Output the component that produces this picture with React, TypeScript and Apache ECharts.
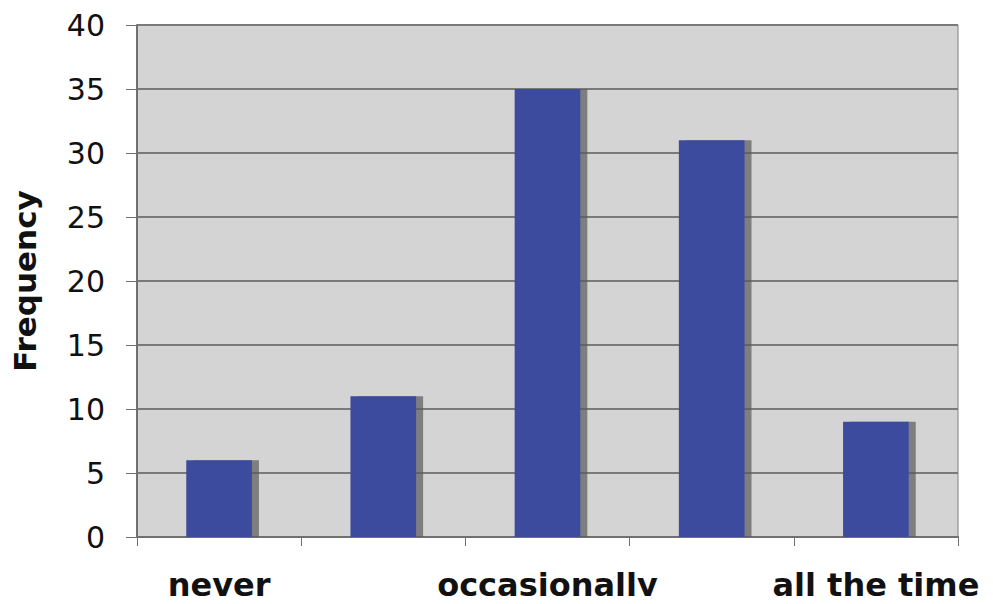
import React, { useEffect, useRef } from "react";
import * as echarts from "echarts";

const categories = ["never", "", "occasionally", "", "all the time"];
const frequencies = [6, 11, 35, 31, 9];
const yTicks = [0, 5, 10, 15, 20, 25, 30, 35, 40];

export default function App() {
  const ref = useRef<HTMLDivElement>(null);
  useEffect(() => {
    if (!ref.current) return;
    const chart = echarts.init(ref.current, null, { renderer: "svg" });
    chart.setOption({
      animation: false,
      backgroundColor: "#ffffff",
      grid: {
        left: 137,
        right: 35,
        top: 25,
        bottom: 67,
        containLabel: false,
        outerBoundsMode: "none",
        show: true,
        backgroundColor: "#d4d4d4",
        borderColor: "#808080",
        borderWidth: 1,
      },
      xAxis: {
        type: "category",
        data: categories,
        axisLine: { lineStyle: { color: "#707070", width: 2 } },
        axisTick: { show: true, length: 9, lineStyle: { color: "#707070" } },
        axisLabel: {
          interval: 0,
          fontFamily: "DejaVu Sans",
          fontWeight: "bold",
          fontSize: 32,
          color: "#111111",
          margin: 32,
        },
      },
      yAxis: {
        type: "value",
        min: yTicks[0],
        max: yTicks[yTicks.length - 1],
        interval: 5,
        name: "Frequency",
        nameLocation: "middle",
        nameGap: 97,
        nameTextStyle: {
          fontFamily: "DejaVu Sans",
          fontWeight: "bold",
          fontSize: 31,
          color: "#111111",
        },
        axisLine: { show: true, lineStyle: { color: "#707070", width: 2 } },
        axisTick: { show: true, length: 11, lineStyle: { color: "#707070" } },
        axisLabel: {
          fontFamily: "DejaVu Sans",
          fontSize: 30,
          color: "#111111",
          margin: 32,
        },
        splitLine: { show: true, lineStyle: { color: "#7a7a7a", width: 2 } },
      },
      series: [
        {
          type: "bar",
          data: frequencies,
          barWidth: "40%",
          itemStyle: {
            color: "#3d4b9f",
            shadowColor: "rgba(90,90,90,0.7)",
            shadowOffsetX: 7,
            shadowOffsetY: 0,
            shadowBlur: 0,
          },
        },
      ],
    });
    return () => chart.dispose();
  }, []);
  return <div ref={ref} style={{ width: 993, height: 604, margin: -8 }} />;
}
